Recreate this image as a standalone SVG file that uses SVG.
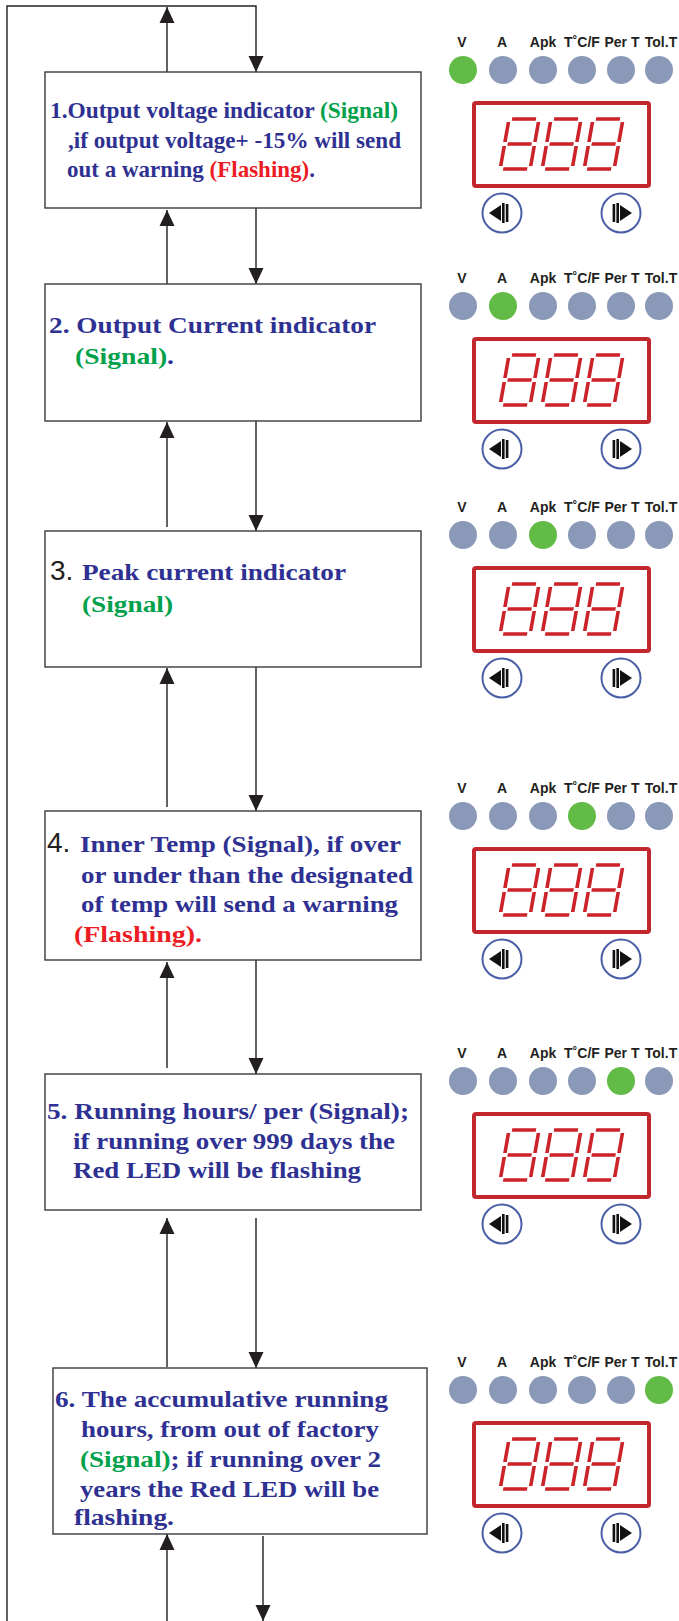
<svg xmlns="http://www.w3.org/2000/svg" xmlns:xlink="http://www.w3.org/1999/xlink" width="679" height="1621" viewBox="0 0 679 1621">
<style>
.box{fill:#fff;stroke:#3a3a3a;stroke-width:1.4}
.conn{fill:none;stroke:#231f20;stroke-width:1.4}
.t{font-family:"Liberation Serif","Times New Roman",serif;font-weight:bold;font-size:23px;fill:#2e3192}
.g{fill:#00a14b}
.r{fill:#ed1c24}
.num{font-family:"Liberation Sans",Arial,sans-serif;font-weight:normal;font-size:28px;fill:#231f20}
.lbl{font-family:"Liberation Sans",Arial,sans-serif;font-weight:bold;font-size:14px;fill:#231f20;text-anchor:middle}
.led{fill:#8a99b8}
.on{fill:#62bb46}
.disp{fill:#fff;stroke:#c1272d;stroke-width:4}
.seg{stroke:#cc2229;stroke-width:3.6;fill:none;stroke-linecap:butt}
.btn{fill:#fff;stroke:#4a5fa5;stroke-width:2}
</style>
<defs>
<marker id="ah" markerUnits="userSpaceOnUse" markerWidth="16" markerHeight="16" viewBox="0 0 16 16" refX="16" refY="8" orient="auto">
<path d="M0,0.5 L16,8 L0,15.5 Z" fill="#231f20"/>
</marker>
<g id="digit">
<path class="seg" d="M3,0 H27 M30,3 V23 M30,27 V47 M3,50 H27 M0,27 V47 M0,3 V23 M3,25 H27"/>
</g>
<g id="display">
<rect class="disp" x="474" y="33" width="175" height="83" rx="2"/>
<use xlink:href="#digit" transform="translate(509,49) skewX(-10)"/>
<use xlink:href="#digit" transform="translate(551,49) skewX(-10)"/>
<use xlink:href="#digit" transform="translate(593,49) skewX(-10)"/>
</g>
<g id="buttons">
<circle class="btn" cx="502" cy="143" r="19.5"/>
<path d="M489,143 L501,135 L501,151 Z" fill="#111"/>
<rect x="502" y="133" width="2.6" height="20" fill="#111"/>
<rect x="505.8" y="134" width="2.6" height="18" fill="#111"/>
<circle class="btn" cx="621" cy="143" r="19.5"/>
<rect x="612.6" y="134" width="2.6" height="18" fill="#111"/>
<rect x="616.4" y="133" width="2.6" height="20" fill="#111"/>
<path d="M620,135 L620,151 L632,143 Z" fill="#111"/>
</g>
<g id="labels">
<text class="lbl" x="462" y="-23">V</text>
<text class="lbl" x="502" y="-23">A</text>
<text class="lbl" x="543" y="-23">Apk</text>
<text class="lbl" x="582" y="-23">T˚C/F</text>
<text class="lbl" x="622" y="-23">Per T</text>
<text class="lbl" x="661" y="-23">Tol.T</text>
</g>
</defs>

<g id="connectors">
<path class="conn" d="M7,1621 V6 H256 V72" marker-end="url(#ah)"/>
<path class="conn" d="M167,72 V7" marker-end="url(#ah)"/>
<path class="conn" d="M167,284 V210" marker-end="url(#ah)"/>
<path class="conn" d="M256,208 V284" marker-end="url(#ah)"/>
<path class="conn" d="M167,527 V422" marker-end="url(#ah)"/>
<path class="conn" d="M256,421 V531" marker-end="url(#ah)"/>
<path class="conn" d="M167,807 V668" marker-end="url(#ah)"/>
<path class="conn" d="M256,667 V811" marker-end="url(#ah)"/>
<path class="conn" d="M167,1068 V962" marker-end="url(#ah)"/>
<path class="conn" d="M256,960 V1074" marker-end="url(#ah)"/>
<path class="conn" d="M167,1367 V1218" marker-end="url(#ah)"/>
<path class="conn" d="M256,1218 V1368" marker-end="url(#ah)"/>
<path class="conn" d="M167,1621 V1534" marker-end="url(#ah)"/>
<path class="conn" d="M263,1536 V1621" marker-end="url(#ah)"/>
</g>

<g id="node1">
<rect class="box" x="45" y="72" width="376" height="136"/>
<text class="t" x="50" y="118" textLength="348" lengthAdjust="spacingAndGlyphs">1.Output voltage indicator <tspan class="g">(Signal)</tspan></text>
<text class="t" x="68" y="148" textLength="333" lengthAdjust="spacingAndGlyphs">,if output voltage+ -15% will send</text>
<text class="t" x="67" y="177" textLength="248" lengthAdjust="spacingAndGlyphs">out a warning <tspan class="r">(Flashing)</tspan>.</text>
</g>

<g id="node2">
<rect class="box" x="45" y="284" width="376" height="137"/>
<text class="t" x="49" y="333" textLength="327" lengthAdjust="spacingAndGlyphs">2. Output Current indicator</text>
<text class="t" x="75" y="364" textLength="99" lengthAdjust="spacingAndGlyphs"><tspan class="g">(Signal)</tspan>.</text>
</g>

<g id="node3">
<rect class="box" x="45" y="531" width="376" height="136"/>
<text class="num" x="50" y="580">3.</text>
<text class="t" x="82" y="580" textLength="264" lengthAdjust="spacingAndGlyphs">Peak current indicator</text>
<text class="t g" x="82" y="612" textLength="91" lengthAdjust="spacingAndGlyphs">(Signal)</text>
</g>

<g id="node4">
<rect class="box" x="45" y="811" width="376" height="149"/>
<text class="num" x="47" y="852">4.</text>
<text class="t" x="80" y="852" textLength="321" lengthAdjust="spacingAndGlyphs">Inner Temp (Signal), if over</text>
<text class="t" x="81" y="883" textLength="332" lengthAdjust="spacingAndGlyphs">or under than the designated</text>
<text class="t" x="81" y="912" textLength="317" lengthAdjust="spacingAndGlyphs">of temp will send a warning</text>
<text class="t r" x="74" y="942" textLength="128" lengthAdjust="spacingAndGlyphs">(Flashing).</text>
</g>

<g id="node5">
<rect class="box" x="45" y="1074" width="376" height="136"/>
<text class="t" x="47" y="1119" textLength="362" lengthAdjust="spacingAndGlyphs">5. Running hours/ per (Signal);</text>
<text class="t" x="73" y="1149" textLength="322" lengthAdjust="spacingAndGlyphs">if running over 999 days the</text>
<text class="t" x="73" y="1178" textLength="288" lengthAdjust="spacingAndGlyphs">Red LED will be flashing</text>
</g>

<g id="node6">
<rect class="box" x="53" y="1368" width="374" height="166"/>
<text class="t" x="55" y="1407" textLength="333" lengthAdjust="spacingAndGlyphs">6. The accumulative running</text>
<text class="t" x="81" y="1437" textLength="298" lengthAdjust="spacingAndGlyphs">hours, from out of factory</text>
<text class="t" x="80" y="1467" textLength="301" lengthAdjust="spacingAndGlyphs"><tspan class="g">(Signal)</tspan>; if running over 2</text>
<text class="t" x="80" y="1497" textLength="299" lengthAdjust="spacingAndGlyphs">years the Red LED will be</text>
<text class="t" x="74" y="1525" textLength="100" lengthAdjust="spacingAndGlyphs">flashing.</text>
</g>

<g id="panel1" transform="translate(0,70)">
<use xlink:href="#labels"/>
<circle class="on" cx="463" cy="0" r="14"/>
<circle class="led" cx="503" cy="0" r="14"/>
<circle class="led" cx="543" cy="0" r="14"/>
<circle class="led" cx="582" cy="0" r="14"/>
<circle class="led" cx="621" cy="0" r="14"/>
<circle class="led" cx="659" cy="0" r="14"/>
<use xlink:href="#display"/>
<use xlink:href="#buttons"/>
</g>

<g id="panel2" transform="translate(0,306)">
<use xlink:href="#labels"/>
<circle class="led" cx="463" cy="0" r="14"/>
<circle class="on" cx="503" cy="0" r="14"/>
<circle class="led" cx="543" cy="0" r="14"/>
<circle class="led" cx="582" cy="0" r="14"/>
<circle class="led" cx="621" cy="0" r="14"/>
<circle class="led" cx="659" cy="0" r="14"/>
<use xlink:href="#display"/>
<use xlink:href="#buttons"/>
</g>

<g id="panel3" transform="translate(0,535)">
<use xlink:href="#labels"/>
<circle class="led" cx="463" cy="0" r="14"/>
<circle class="led" cx="503" cy="0" r="14"/>
<circle class="on" cx="543" cy="0" r="14"/>
<circle class="led" cx="582" cy="0" r="14"/>
<circle class="led" cx="621" cy="0" r="14"/>
<circle class="led" cx="659" cy="0" r="14"/>
<use xlink:href="#display"/>
<use xlink:href="#buttons"/>
</g>

<g id="panel4" transform="translate(0,816)">
<use xlink:href="#labels"/>
<circle class="led" cx="463" cy="0" r="14"/>
<circle class="led" cx="503" cy="0" r="14"/>
<circle class="led" cx="543" cy="0" r="14"/>
<circle class="on" cx="582" cy="0" r="14"/>
<circle class="led" cx="621" cy="0" r="14"/>
<circle class="led" cx="659" cy="0" r="14"/>
<use xlink:href="#display"/>
<use xlink:href="#buttons"/>
</g>

<g id="panel5" transform="translate(0,1081)">
<use xlink:href="#labels"/>
<circle class="led" cx="463" cy="0" r="14"/>
<circle class="led" cx="503" cy="0" r="14"/>
<circle class="led" cx="543" cy="0" r="14"/>
<circle class="led" cx="582" cy="0" r="14"/>
<circle class="on" cx="621" cy="0" r="14"/>
<circle class="led" cx="659" cy="0" r="14"/>
<use xlink:href="#display"/>
<use xlink:href="#buttons"/>
</g>

<g id="panel6" transform="translate(0,1390)">
<use xlink:href="#labels"/>
<circle class="led" cx="463" cy="0" r="14"/>
<circle class="led" cx="503" cy="0" r="14"/>
<circle class="led" cx="543" cy="0" r="14"/>
<circle class="led" cx="582" cy="0" r="14"/>
<circle class="led" cx="621" cy="0" r="14"/>
<circle class="on" cx="659" cy="0" r="14"/>
<use xlink:href="#display"/>
<use xlink:href="#buttons"/>
</g>
</svg>
